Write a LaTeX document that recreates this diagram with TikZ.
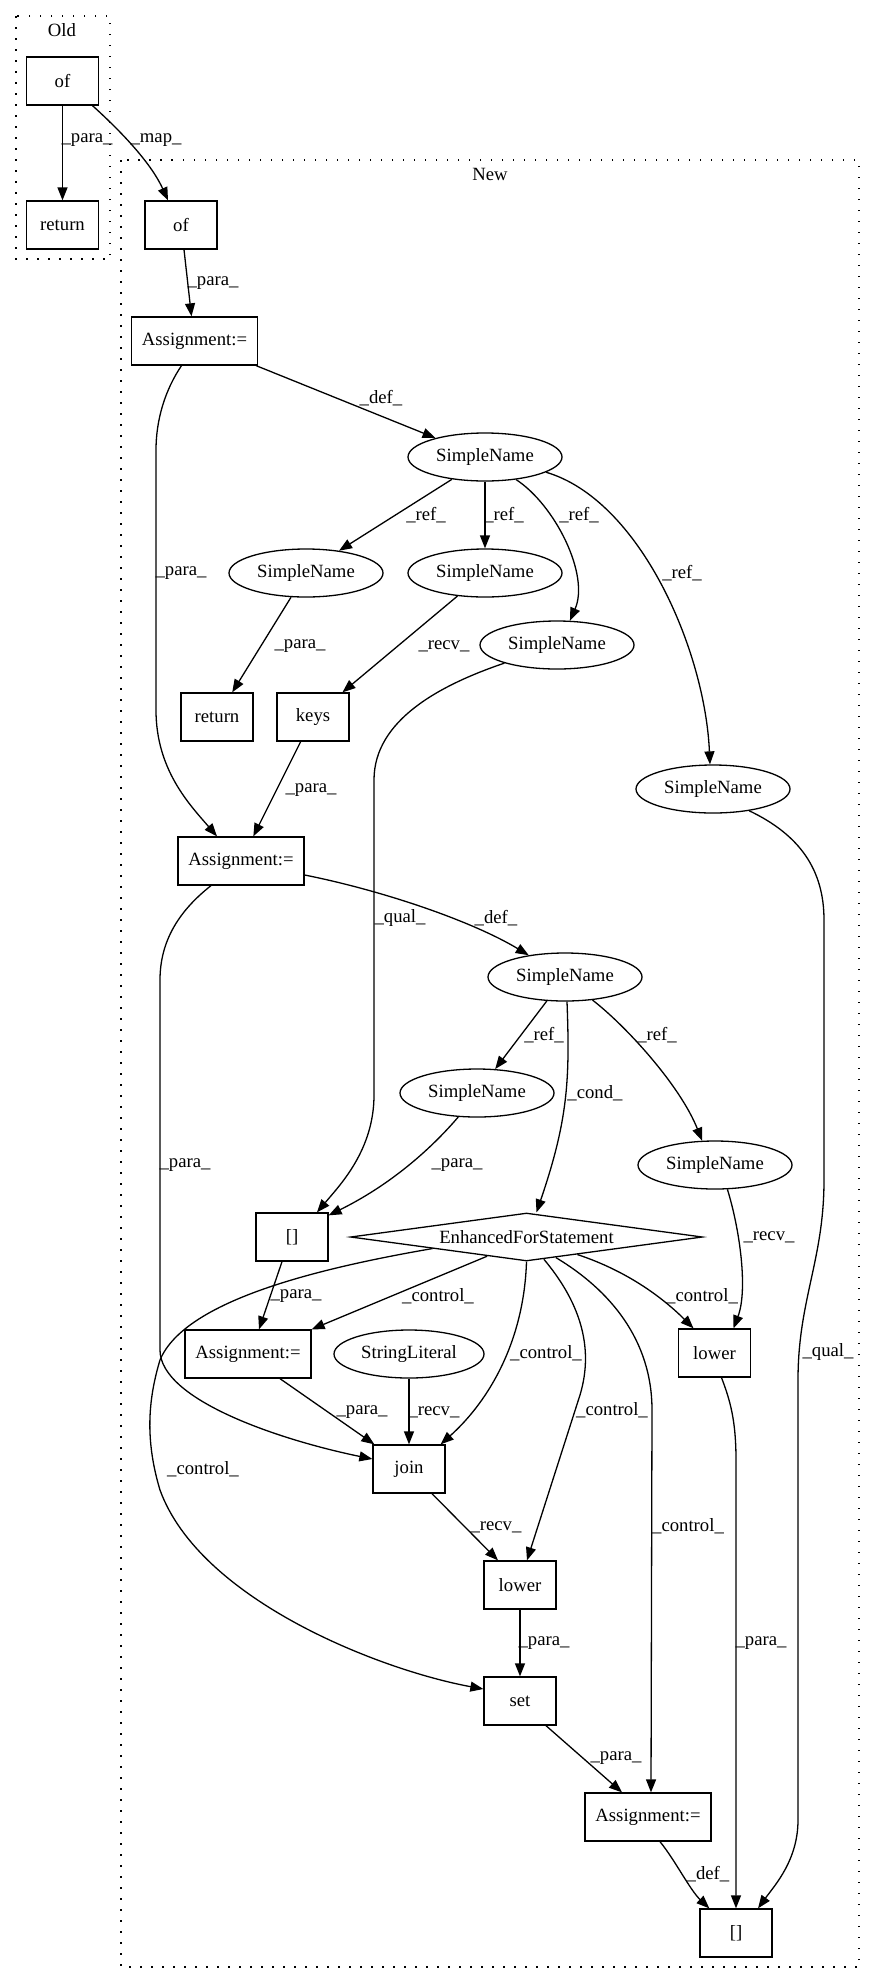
\documentclass[tikz,border=0pt]{standalone}
\usepackage{fontspec}
\setmainfont{Liberation Serif}
\usetikzlibrary{shapes.geometric,arrows.meta}
\begin{document}
\begin{tikzpicture}[x=1pt,y=-1pt,line width=1.3pt,
    every node/.style={font=\fontsize{18.7pt}{22pt}\selectfont},
    box/.style={draw,rectangle,minimum width=72pt,minimum height=48pt,inner sep=0pt},
    asg/.style={box,minimum width=126pt},
    sname/.style={draw,ellipse,minimum width=154pt,minimum height=48pt,inner sep=0pt},
    cond/.style={draw,diamond,aspect=7.3,minimum width=352pt,minimum height=48pt,inner sep=0pt},
    lbl/.style={inner sep=0pt},
    cluster/.style={dash pattern=on 1.5pt off 9.5pt},
    >={Triangle[length=13pt,width=10pt]}]
        \useasboundingbox (0,0) rectangle (875,1984);
        \draw[cluster] (16,16) rectangle (110,259);
        \draw[cluster] (121,160) rectangle (859,1967);
        \node (old) at (62,30) {Old};
        \node (new) at (490,174) {New};
        \node[box] (ofO) at (62.5,81) {of};
        \node[box] (retO) at (62.5,225) {return};
        \node[box] (ofN) at (181,225) {of};
        \node[asg] (asg1) at (194.5,341) {Assignment:=};
        \node[sname] (sn0) at (485,457) {SimpleName};
        \node[sname] (snA) at (306,573) {SimpleName};
        \node[sname] (snB) at (485,573) {SimpleName};
        \node[sname] (snC) at (557,645) {SimpleName};
        \node[sname] (snD) at (713,789) {SimpleName};
        \node[box] (retN) at (217,717) {return};
        \node[box] (keys) at (313,717) {keys};
        \node[asg] (asg2) at (241,861) {Assignment:=};
        \node[sname] (snE) at (565,977) {SimpleName};
        \node[sname] (snF) at (477,1093) {SimpleName};
        \node[sname] (snG) at (715,1165) {SimpleName};
        \node[box] (idx1) at (292,1237) {[]};
        \node[cond] (efs) at (526.5,1237) {EnhancedForStatement};
        \node[asg] (asg3) at (248,1354) {Assignment:=};
        \node[sname,minimum width=150pt] (strlit) at (409,1354) {StringLiteral};
        \node[box] (low1) at (714.5,1353) {lower};
        \node[box] (join) at (409,1469) {join};
        \node[box] (low2) at (520,1585) {lower};
        \node[box] (set) at (520,1701) {set};
        \node[asg] (asg4) at (648,1817) {Assignment:=};
        \node[box] (idx2) at (736,1933) {[]};
        \draw[->] (ofO) -- (retO);
        \draw[->] ([xshift=30pt]ofO.south) .. controls (125,135) and (152,165) .. ([xshift=-13pt]ofN.north);
        \draw[->] ([xshift=3pt]ofN.south) -- ([xshift=-3pt]asg1.north);
        \draw[->] ([xshift=-2pt]asg1.south east) -- (sn0.159);
        \draw[->] ([xshift=-13pt]asg1.south) .. controls (165,390) and (156,420) .. (156,450) -- (156,710)
            .. controls (156,770) and (190,805) .. ([xshift=-24pt]asg2.north);
        \draw[->] (sn0.214) -- (snA.34);
        \draw[->] (sn0) -- (snB);
        \draw[->] (sn0.324) .. controls (555,505) and (590,575) .. (snC.62);
        \draw[->] (sn0.346) .. controls (640,500) and (705,650) .. (snD.97);
        \draw[->] (snA) -- (retN);
        \draw[->] (snB) -- (keys);
        \draw[->] (keys) -- (asg2);
        \draw[->] (snC.199) .. controls (440,685) and (374,720) .. (374,780) -- (374,1095)
            .. controls (374,1150) and (340,1185) .. ([xshift=25pt]idx1.north);
        \draw[->] ([yshift=-14pt]asg2.east) .. controls (380,890) and (470,920) .. (snE.149);
        \draw[->] (snE) -- (snF);
        \draw[->] (snE.320) .. controls (625,1025) and (680,1085) .. (snG.118);
        \draw[->] ([xshift=2pt]snE.south) .. controls (570,1080) and (568,1120) .. ([xshift=10pt]efs.north);
        \draw[->] (snF.232) .. controls (430,1150) and (390,1185) .. ([yshift=-3pt]idx1.north east);
        \draw[->] (snD.329) .. controls (800,835) and (824,870) .. (824,920) -- (824,1180)
            .. controls (824,1260) and (798,1300) .. (798,1380) -- (798,1820)
            .. controls (798,1860) and (775,1885) .. ([xshift=22pt]idx2.north);
        \draw[->] (efs.206) -- (asg3.north east);
        \draw[->] ([xshift=-10pt]idx1.south) -- ([xshift=11pt]asg3.north);
        \draw[->] (efs.187) .. controls (320,1268) and (185,1300) .. (160,1360)
            .. controls (148,1400) and (145,1440) .. (160,1490)
            .. controls (200,1600) and (380,1670) .. ([yshift=12pt]set.west);
        \draw[->] (efs.south) .. controls (524,1340) and (490,1400) .. ([xshift=-5pt]join.north east);
        \draw[->] (efs.308) .. controls (578,1300) and (595,1345) .. (580,1395) -- ([xshift=7pt]low2.north);
        \draw[->] (efs.325) .. controls (610,1290) and (652,1340) .. (652,1410) -- ([xshift=3pt]asg4.north);
        \draw[->] (efs.341) .. controls (630,1272) and (665,1300) .. ([xshift=-21pt]low1.north);
        \draw[->] (snG.297) .. controls (740,1230) and (748,1290) .. ([xshift=19pt]low1.north);
        \draw[->] ([xshift=32pt]asg3.south) -- ([xshift=2pt]join.north west);
        \draw[->] (strlit) -- (join);
        \draw[->] ([xshift=-30pt]asg2.south) .. controls (180,910) and (160,940) .. (160,980) -- (160,1350)
            .. controls (160,1400) and (280,1440) .. ([yshift=10pt]join.west);
        \draw[->] ([xshift=23pt]join.south) -- ([xshift=-22pt]low2.north);
        \draw[->] (low2) -- (set);
        \draw[->] ([xshift=26pt]set.south) -- ([xshift=-26pt]asg4.north);
        \draw[->] ([xshift=7pt]low1.south) .. controls (730,1400) and (736,1420) .. (736,1460) -- (idx2.north);
        \draw[->] ([xshift=12pt]asg4.south) .. controls (675,1860) and (690,1890) .. ([xshift=10pt]idx2.north west);
        \foreach \x/\y/\t [count=\i] in {87/140/para,156/140/map,213/283/para,381/398/def,181/573/para,
                426/515/ref,504/515/ref,579/515/ref,682/573/ref,300/646/para,444/646/recv,311/790/para,
                400/918/qual,496/918/def,544/1035/ref,657/1035/ref,595/1093/cond,457/1165/para,
                185/1165/para,769/1237/recv,296/1296/para,438/1296/control,702/1296/control,
                546/1353/control,828/1352/qual,434/1412/recv,362/1412/para,612/1410/control,
                203/1469/control,496/1527/recv,688/1526/control,544/1643/para,761/1643/para,
                616/1758/para,708/1874/def}
            \node[lbl] (lab\i) at (\x,\y) {\_\t\_};
    \end{tikzpicture}
\end{document}
